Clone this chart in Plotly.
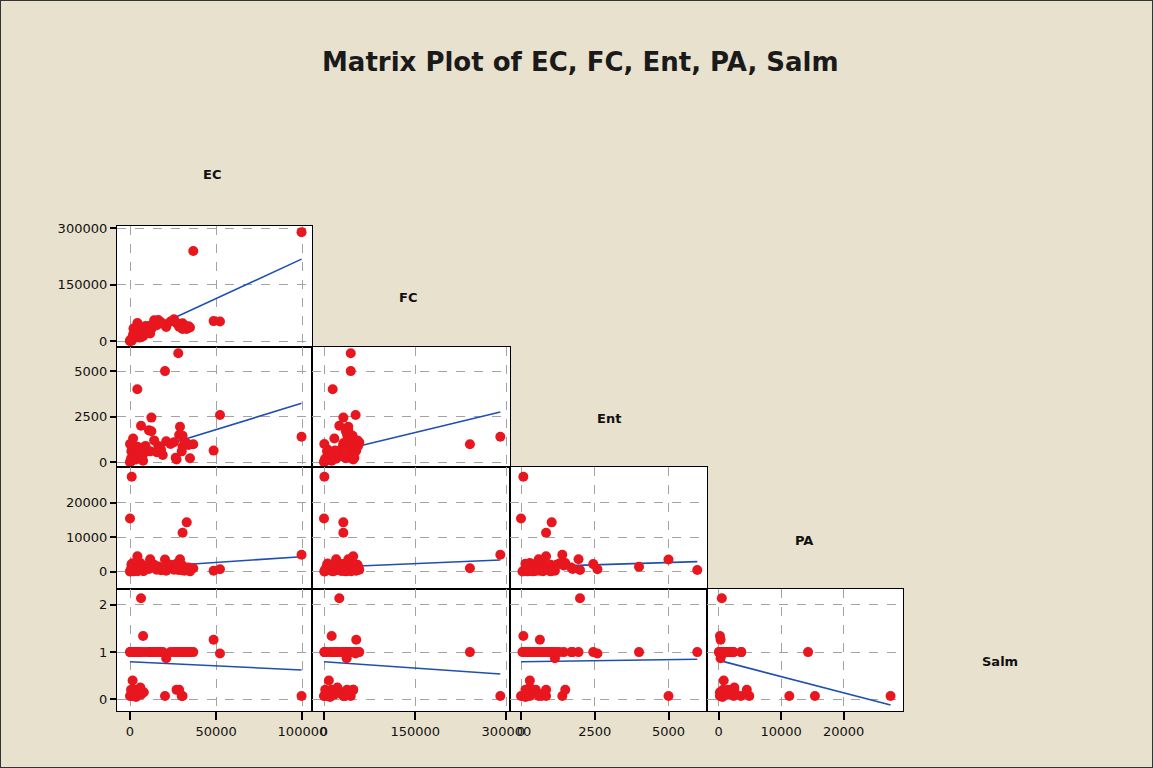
import numpy as np
import plotly.graph_objects as go

# ---- data (one value per sample) ----
EC = [99500, 36700, 48500, 52200, 28000, 20300, 4240, 6400, 7600, 1000, 0, 32900, 30500, 12400,
      29000, 11000, 12400, 28500, 30500, 4300, 11700, 21000, 34800, 16400, 23500, 25500, 18000,
      31500, 34000, 14000, 500, 1500, 2500, 3000, 800, 2000, 5000, 6000, 3500, 9000, 8000, 200,
      1200, 7000, 6500, 2800, 4500, 600, 5500, 2000, 15500, 19000, 27000, 26500, 30000, 0, 1800]
FC = [290000, 240000, 53000, 52000, 44000, 44000, 14300, 25200, 12600, 600, 0, 31800, 31800, 31800,
      40000, 40000, 36000, 38000, 47000, 48000, 20000, 37300, 36000, 56000, 52000, 58000, 50000,
      42000, 39000, 55000, 3000, 8000, 12000, 20000, 5000, 15000, 30000, 22000, 10000, 40000, 28000,
      1000, 6000, 35000, 18000, 26000, 45000, 2000, 9000, 33000, 42000, 46000, 48000, 50000, 35000,
      500, 17000]
Ent = [1400, 990, 640, 2590, 5975, 5000, 4000, 2000, 80, 80, 0, 1040, 850, 2450, 1950, 1750, 1700,
       1500, 1450, 850, 600, 1150, 220, 900, 1000, 1100, 700, 1050, 950, 1200, 100, 300, 500, 200,
       600, 400, 800, 300, 150, 900, 500, 50, 700, 250, 650, 350, 750, 200, 450, 300, 550, 400, 150,
       250, 600, 1000, 1300]
PA = [4900, 1000, 300, 700, 500, 3550, 1450, 500, 200, 27500, 15400, 14300, 11300, 2200, 3600, 800,
      1200, 2500, 1800, 4500, 3600, 300, 100, 1500, 2000, 600, 400, 300, 1200, 2000, 300, 800, 1500,
      400, 2000, 100, 1000, 2500, 600, 1800, 200, 50, 2400, 900, 1300, 2200, 150, 700, 1700, 200,
      600, 1100, 2300, 800, 400, 100, 2400]
Salm = [0.07, 1.0, 1.26, 0.97, 1.0, 0.07, 1.0, 2.14, 1.34, 0.07, 0.07, 1.0, 0.07, 1.0, 1.0, 1.0, 1.0,
        0.2, 1.0, 0.2, 1.0, 0.87, 1.0, 1.0, 1.0, 1.0, 1.0, 1.0, 1.0, 1.0, 1.0, 0.4, 0.2, 1.0, 0.1, 1.0,
        1.0, 0.25, 0.05, 1.0, 0.15, 1.0, 0.07, 1.0, 0.1, 1.0, 1.0, 0.2, 1.0, 0.07, 1.0, 1.0, 0.2, 1.0,
        0.07, 1.0, 1.0]

VARIABLES = ["EC", "FC", "Ent", "PA", "Salm"]
TICKS = {
    "EC": [0, 50000, 100000],
    "FC": [0, 150000, 300000],
    "Ent": [0, 2500, 5000],
    "PA": [0, 10000, 20000],
    "Salm": [0, 1, 2],
}

# fitted regression lines: (y var, x var) -> intercept, slope
FIT_PAIRS = [("FC", "EC"), ("Ent", "EC"), ("PA", "EC"), ("Salm", "EC"),
             ("Ent", "FC"), ("PA", "FC"), ("Salm", "FC"),
             ("PA", "Ent"), ("Salm", "Ent"),
             ("Salm", "PA")]
FIT_INTERCEPT = [7200, 346, 1017, 0.795, 424, 1200, 0.797, 1330, 0.797, 0.826]
FIT_SLOPE = [2.12, 0.0290, 0.0335, -1.75e-6, 0.00805, 0.0076, -9.0e-7, 0.265, 8.4e-6, -3.45e-5]

data = {"EC": EC, "FC": FC, "Ent": Ent, "PA": PA, "Salm": Salm}
fits = {p: (a, b) for p, a, b in zip(FIT_PAIRS, FIT_INTERCEPT, FIT_SLOPE)}

# ---- layout geometry ----
W, H = 1153, 768
COL_PX = [(117, 312), (312, 510), (510, 707), (707, 903)]
ROW_PX = [(226, 347), (347, 467), (467, 589), (589, 711)]
XRANGE = {"EC": [-7540, 105570], "FC": [-19740, 305920], "Ent": [-373, 6305], "PA": [-1872, 29488]}
YRANGE = {"FC": [-15990, 306400], "Ent": [-258, 6321], "PA": [-5014, 30348], "Salm": [-0.248, 2.337]}

RED = "#e8161e"
BLUE = "#1f4fb2"
FONT = "DejaVu Sans"

fig = go.Figure()
layout_axes = {}
k = 0
for r in range(4):
    yvar = VARIABLES[r + 1]
    for c in range(r + 1):
        xvar = VARIABLES[c]
        k += 1
        xa = "x" if k == 1 else f"x{k}"
        ya = "y" if k == 1 else f"y{k}"
        xname = "xaxis" if k == 1 else f"xaxis{k}"
        yname = "yaxis" if k == 1 else f"yaxis{k}"
        l, rr = COL_PX[c]
        t, b = ROW_PX[r]
        bottom_row = (r == 3)
        left_col = (c == 0)
        layout_axes[xname] = dict(
            domain=[l / W, rr / W], anchor=ya, range=XRANGE[xvar], automargin=False,
            tickvals=TICKS[xvar], ticktext=[str(v) for v in TICKS[xvar]],
            showticklabels=bottom_row, ticks="outside" if bottom_row else "",
            ticklen=8, tickwidth=1.5, tickcolor="black",
            showgrid=True, gridcolor="#a3a3a3", griddash="dash", gridwidth=1,
            zeroline=False, showline=True, mirror=True, linecolor="black", linewidth=1.3,
            tickfont=dict(family=FONT, size=13, color="#111111"),
        )
        layout_axes[yname] = dict(
            domain=[1 - b / H, 1 - t / H], anchor=xa, range=YRANGE[yvar], automargin=False,
            tickvals=TICKS[yvar], ticktext=[str(v) for v in TICKS[yvar]],
            showticklabels=left_col, ticks="outside" if left_col else "",
            ticklen=6, tickwidth=1.5, tickcolor="black",
            showgrid=True, gridcolor="#a3a3a3", griddash="dash", gridwidth=1,
            zeroline=False, showline=True, mirror=True, linecolor="black", linewidth=1.3,
            tickfont=dict(family=FONT, size=13, color="#111111"),
        )
        xs = np.array(data[xvar], dtype=float)
        ys = np.array(data[yvar], dtype=float)
        a, s = fits[(yvar, xvar)]
        lx = np.array([xs.min(), xs.max()])
        fig.add_trace(go.Scatter(x=lx, y=a + s * lx, mode="lines", xaxis=xa, yaxis=ya,
                                 line=dict(color=BLUE, width=1.6), showlegend=False,
                                 hoverinfo="skip"))
        fig.add_trace(go.Scatter(x=xs, y=ys, mode="markers", xaxis=xa, yaxis=ya,
                                 marker=dict(color=RED, size=10, line=dict(width=0)),
                                 showlegend=False))

# diagonal variable labels
LABEL_POS = [(212, 174), (408, 297), (609, 418), (804, 540), (1000, 661)]
annotations = []
for name, (px, py) in zip(VARIABLES, LABEL_POS):
    annotations.append(dict(text=f"<b>{name}</b>", x=px / W, y=1 - py / H, xref="paper", yref="paper",
                            showarrow=False, font=dict(family=FONT, size=13, color="#111111"),
                            xanchor="center", yanchor="middle"))
annotations.append(dict(text="<b>Matrix Plot of EC, FC, Ent, PA, Salm</b>", x=580 / W, y=1 - 62 / H,
                        xref="paper", yref="paper", showarrow=False,
                        font=dict(family=FONT, size=26, color="#1a1a1a"),
                        xanchor="center", yanchor="middle"))

fig.update_layout(
    width=W, height=H, margin=dict(l=0, r=0, t=0, b=0, autoexpand=False),
    paper_bgcolor="#e8e1cd", plot_bgcolor="white",
    annotations=annotations, showlegend=False,
    shapes=[dict(type="rect", xref="paper", yref="paper", x0=0, y0=0, x1=1, y1=1,
                 line=dict(color="#333333", width=2))],
    **layout_axes,
)

fig.write_html(
    "out.html",
    config={"displayModeBar": False, "responsive": False},
    post_script=(
        "document.documentElement.style.margin='0';"
        "document.documentElement.style.overflow='hidden';"
        "document.body.style.margin='0';document.body.style.padding='0';"
        "document.body.style.overflow='hidden';"
    ),
)
